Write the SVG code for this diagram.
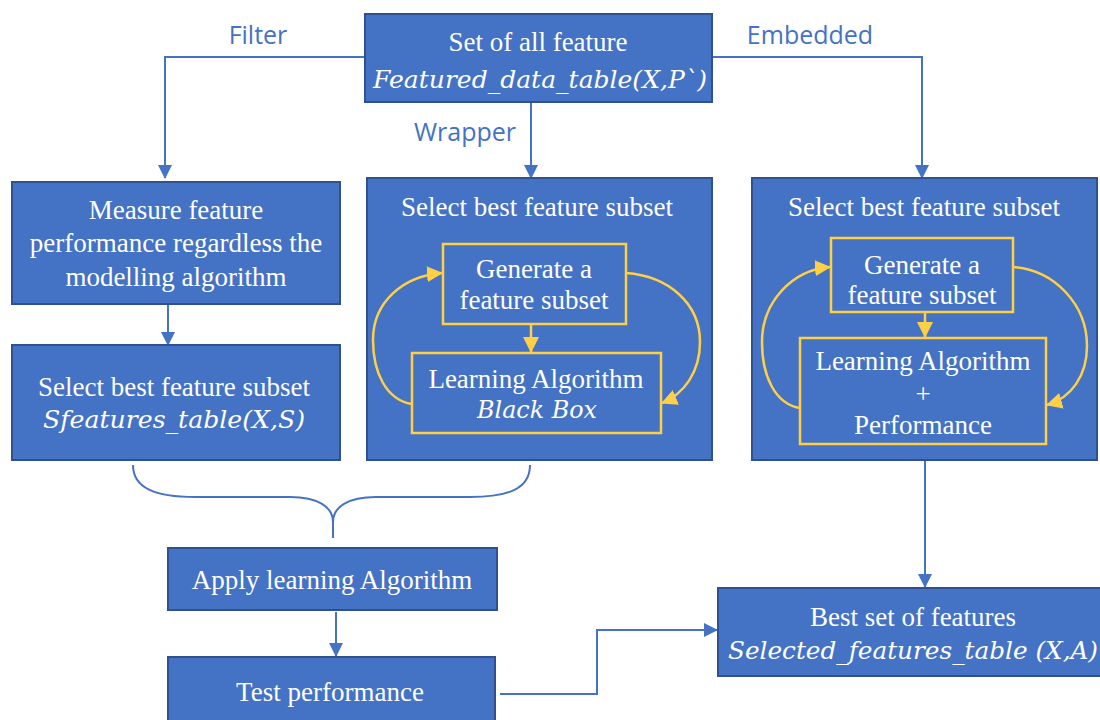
<svg xmlns="http://www.w3.org/2000/svg" width="1100" height="720" viewBox="0 0 1100 720">
<defs>
<style>
.box{fill:#4472C4;stroke:#2F528F;stroke-width:2}
.ibox{fill:none;stroke:#FFD046;stroke-width:2.5}
.t{font-family:"Liberation Serif","Times New Roman",serif;font-size:27px;fill:#fff;text-anchor:middle}
.m{font-family:"DejaVu Serif",serif;font-style:italic;font-size:24px;fill:#fff;text-anchor:middle}
.lbl{font-family:"Open Sans","Noto Sans",sans-serif;font-size:25px;fill:#4472C4;text-anchor:middle}
.c{fill:none;stroke:#4472C4;stroke-width:2}
.y{fill:none;stroke:#FFD046;stroke-width:2.5}
</style>
<marker id="ab" markerUnits="userSpaceOnUse" markerWidth="14" markerHeight="14" viewBox="0 0 14 14" refX="13" refY="7" orient="auto">
<path d="M0,0 L14,7 L0,14 Z" fill="#4472C4"/>
</marker>
<marker id="ay" markerUnits="userSpaceOnUse" markerWidth="16" markerHeight="16" viewBox="0 0 16 16" refX="15" refY="8" orient="auto">
<path d="M0,0 L16,8 L0,16 Z" fill="#FFD046"/>
</marker>
</defs>
<rect width="1100" height="720" fill="#fff"/>

<g id="connectors">
<path class="c" d="M365,57 H165 V178" marker-end="url(#ab)"/>
<path class="c" d="M712,57 H922 V178" marker-end="url(#ab)"/>
<path class="c" d="M531,102 V178" marker-end="url(#ab)"/>
<path class="c" d="M168,304 V345" marker-end="url(#ab)"/>
<path class="c" d="M133,465 C133,488 155,497 195,497 L290,497 C318,497 333,507 333,522 C333,507 348,497 376,497 L470,497 C510,497 530,488 530,465"/>
<path class="c" d="M333,520 V538"/>
<path class="c" d="M336,612 V656" marker-end="url(#ab)"/>
<path class="c" d="M925,460 V587" marker-end="url(#ab)"/>
<path class="c" d="M500,694 H597 V630 H717" marker-end="url(#ab)"/>
</g>

<g id="labels">
<text class="lbl" x="258" y="44">Filter</text>
<text class="lbl" x="810" y="44">Embedded</text>
<text class="lbl" x="465" y="141">Wrapper</text>
</g>

<g id="all-features">
<rect class="box" x="365" y="14" width="347" height="88"/>
<text class="t" x="538" y="51">Set of all feature</text>
<text class="m" x="540" y="88" textLength="334" lengthAdjust="spacingAndGlyphs">Featured_data_table(X,P`)</text>
</g>

<g id="measure">
<rect class="box" x="12" y="182" width="328" height="122"/>
<text class="t" x="176" y="219">Measure feature</text>
<text class="t" x="176" y="252">performance regardless the</text>
<text class="t" x="176" y="286">modelling algorithm</text>
</g>

<g id="filter-select">
<rect class="box" x="12" y="345" width="328" height="115"/>
<text class="t" x="174" y="396">Select best feature subset</text>
<text class="m" x="174" y="428" textLength="262" lengthAdjust="spacingAndGlyphs">Sfeatures_table(X,S)</text>
</g>

<g id="wrapper-select">
<rect class="box" x="367" y="178" width="345" height="282"/>
<text class="t" x="537" y="216">Select best feature subset</text>
<rect class="ibox" x="443" y="244" width="183" height="80"/>
<text class="t" x="534" y="278">Generate a</text>
<text class="t" x="534" y="309">feature subset</text>
<rect class="ibox" x="412" y="353" width="249" height="80"/>
<text class="t" x="536" y="388">Learning Algorithm</text>
<text class="m" x="537" y="418" textLength="120" lengthAdjust="spacingAndGlyphs">Black Box</text>
<path class="y" d="M531,324 V352" marker-end="url(#ay)"/>
<path class="y" d="M412,404 C386,400 373,372 373,340 C373,302 403,276 442,273" marker-end="url(#ay)"/>
<path class="y" d="M626,273 C668,276 700,303 700,342 C700,372 684,394 662,403" marker-end="url(#ay)"/>
</g>

<g id="embedded-select">
<rect class="box" x="752" y="178" width="345" height="282"/>
<text class="t" x="924" y="216">Select best feature subset</text>
<rect class="ibox" x="831" y="238" width="182" height="74"/>
<text class="t" x="922" y="274">Generate a</text>
<text class="t" x="922" y="304">feature subset</text>
<rect class="ibox" x="800" y="338" width="246" height="106"/>
<text class="t" x="923" y="370">Learning Algorithm</text>
<text class="t" x="923" y="403">+</text>
<text class="t" x="923" y="434">Performance</text>
<path class="y" d="M925,312 V337" marker-end="url(#ay)"/>
<path class="y" d="M800,408 C775,404 762,376 762,342 C762,302 792,270 830,267" marker-end="url(#ay)"/>
<path class="y" d="M1013,267 C1055,270 1087,305 1087,346 C1087,376 1071,398 1047,405" marker-end="url(#ay)"/>
</g>

<g id="apply">
<rect class="box" x="168" y="548" width="329" height="62"/>
<text class="t" x="332" y="589">Apply learning Algorithm</text>
</g>

<g id="test">
<rect class="box" x="168" y="657" width="327" height="70"/>
<text class="t" x="330" y="701">Test performance</text>
</g>

<g id="best">
<rect class="box" x="718" y="588" width="390" height="88"/>
<text class="t" x="913" y="626">Best set of features</text>
<text class="m" x="913" y="659" textLength="370" lengthAdjust="spacingAndGlyphs">Selected_features_table (X,A)</text>
</g>
</svg>
